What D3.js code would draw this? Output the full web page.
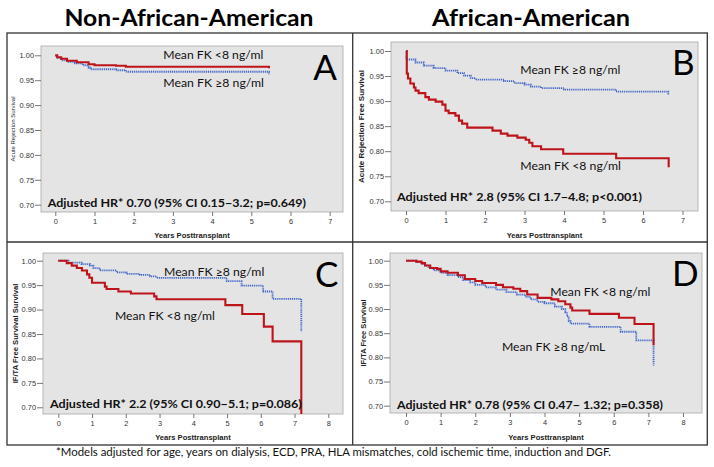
<!DOCTYPE html>
<html><head><meta charset="utf-8">
<script src="https://cdn.jsdelivr.net/npm/d3@7"></script>
<style>body{margin:0;background:#fff}svg{display:block}</style>
</head><body>
<svg id="chart" width="714" height="467"></svg>
<script>
// ---------------- data ----------------
const yTicks = [0.70, 0.75, 0.80, 0.85, 0.90, 0.95, 1.00];
const xTicksTop = [0, 1, 2, 3, 4, 5, 6, 7];
const xTicksBottom = [0, 1, 2, 3, 4, 5, 6, 7, 8];
const columnTitles = ["Non-African-American", "African-American"];
const panelLetters = ["A", "B", "C", "D"];
const yAxisTitles = ["Acute Rejection Survival", "Acute Rejection Free Survival", "IF/TA Free Survival Survival", "IF/TA Free Survival"];
const xAxisTitle = "Years Posttransplant";
const lowLabels = ["Mean FK <8 ng/ml", "Mean FK <8 ng/ml", "Mean FK <8 ng/ml", "Mean FK <8 ng/ml"];
const highLabels = ["Mean FK \u22658 ng/ml", "Mean FK \u22658 ng/ml", "Mean FK \u22658 ng/ml", "Mean FK \u22658 ng/mL"];
const hrTexts = [
  "Adjusted HR* 0.70 (95% CI 0.15\u22123.2; p=0.649)",
  "Adjusted HR* 2.8 (95% CI 1.7\u22124.8; p<0.001)",
  "Adjusted HR* 2.2 (95% CI 0.90\u22125.1; p=0.086)",
  "Adjusted HR* 0.78 (95% CI 0.47\u2212 1.32; p=0.358)"
];
const footnote = "*Models adjusted for age, years on dialysis, ECD, PRA, HLA mismatches, cold ischemic time, induction and DGF.";

// Panel A: Non-African-American, acute rejection
const aLowT  = [0, 0.05, 0.15, 0.3, 0.55, 0.85, 1.0, 1.55, 1.8, 5.45, 5.45];
const aLowS  = [1.0, 0.996, 0.993, 0.989, 0.986, 0.982, 0.980, 0.979, 0.977, 0.977, 0.974];
const aHighT = [0, 0.03, 0.15, 0.3, 0.5, 0.7, 0.85, 0.9, 1.55, 1.8, 5.45, 5.45];
const aHighS = [1.0, 0.995, 0.990, 0.987, 0.984, 0.980, 0.975, 0.972, 0.970, 0.967, 0.967, 0.962];
// Panel B: African-American, acute rejection
const bLowT  = [0, 0.02, 0.05, 0.11, 0.2, 0.24, 0.32, 0.49, 0.58, 0.75, 0.92, 1.0, 1.08, 1.25, 1.34, 1.42, 1.55, 2.19, 2.4, 2.57, 2.82, 3.03, 3.12, 3.2, 3.42, 3.98, 5.32, 6.65, 6.65];
const bLowS  = [1.0, 0.955, 0.945, 0.935, 0.927, 0.921, 0.916, 0.908, 0.903, 0.899, 0.893, 0.881, 0.876, 0.871, 0.861, 0.855, 0.847, 0.841, 0.835, 0.831, 0.827, 0.823, 0.817, 0.810, 0.804, 0.795, 0.786, 0.786, 0.768];
const bHighT = [0, 0.01, 0.24, 0.45, 0.7, 1.0, 1.3, 1.47, 1.64, 1.76, 2.48, 2.74, 3.0, 3.16, 3.42, 4.0, 5.32, 6.64, 6.64];
const bHighS = [1.0, 0.983, 0.977, 0.971, 0.966, 0.961, 0.956, 0.951, 0.946, 0.943, 0.940, 0.936, 0.933, 0.929, 0.926, 0.923, 0.919, 0.919, 0.912];
// Panel C: Non-African-American, IF/TA
const cLowT  = [0, 0.25, 0.4, 0.55, 0.7, 0.85, 0.92, 1.0, 1.38, 1.43, 1.78, 2.15, 2.84, 2.91, 4.95, 5.45, 6.09, 6.35, 7.2, 7.2];
const cLowS  = [1.0, 0.995, 0.990, 0.985, 0.980, 0.972, 0.965, 0.955, 0.947, 0.942, 0.937, 0.933, 0.927, 0.921, 0.909, 0.891, 0.865, 0.835, 0.835, 0.68];
const cHighT = [0, 0.3, 0.69, 0.94, 1.04, 1.23, 1.73, 2.02, 2.42, 2.72, 2.91, 4.99, 5.43, 6.07, 6.35, 7.2, 7.2];
const cHighS = [1.0, 0.996, 0.993, 0.990, 0.985, 0.980, 0.976, 0.973, 0.971, 0.968, 0.965, 0.958, 0.949, 0.937, 0.922, 0.922, 0.855];
// Panel D: African-American, IF/TA
const dLowT  = [0, 0.3, 0.45, 0.55, 0.7, 0.9, 1.0, 1.2, 1.5, 1.7, 2.0, 2.2, 2.6, 2.8, 3.1, 3.3, 3.5, 3.8, 4.2, 4.4, 4.6, 4.75, 4.8, 5.3, 6.15, 6.6, 7.15, 7.15];
const dLowS  = [1.0, 0.998, 0.995, 0.990, 0.985, 0.983, 0.978, 0.975, 0.970, 0.962, 0.958, 0.954, 0.950, 0.945, 0.942, 0.937, 0.930, 0.923, 0.920, 0.916, 0.910, 0.903, 0.897, 0.890, 0.882, 0.869, 0.869, 0.825];
const dHighT = [0, 0.3, 0.45, 0.55, 0.65, 0.8, 1.0, 1.2, 1.5, 1.65, 1.85, 2.0, 2.3, 2.6, 2.9, 3.2, 3.45, 3.6, 3.8, 4.0, 4.3, 4.5, 4.6, 4.65, 4.7, 4.75, 5.3, 6.2, 6.65, 7.15, 7.15];
const dHighS = [1.0, 0.997, 0.993, 0.990, 0.985, 0.980, 0.975, 0.970, 0.966, 0.960, 0.955, 0.950, 0.945, 0.940, 0.935, 0.930, 0.925, 0.920, 0.915, 0.912, 0.905, 0.900, 0.893, 0.885, 0.875, 0.870, 0.863, 0.853, 0.835, 0.835, 0.783];

// ---------------- layout ----------------
const RED = "#bd141c", BLUE = "#3f64c8";
const ANNOT = "Lato, 'Open Sans', sans-serif";
const AX = "'Liberation Sans', Arial, sans-serif";

const panels = [
  {plot:[41,46,343,212], x0:55.3, x1:329.7, xmax:7, y100:55.3, y70:204.7, xt:xTicksTop,
   low:[aLowT,aLowS], high:[aHighT,aHighS],
   ytitle:{x:13, size:6, weight:"normal"},
   lowLab:{x:163.3, y:59.3, w:100}, highLab:{x:163.3, y:87.3, w:100.7},
   letter:{x:313.3, y:80}, hr:{x:47.7, y:206.7, w:258.3}, xtitleY:237.5},
  {plot:[391,42,698,211], x0:406, x1:682.5, xmax:7, y100:51.0, y70:201.3, xt:xTicksTop,
   low:[bLowT,bLowS], high:[bHighT,bHighS],
   ytitle:{x:361, size:8, weight:"bold"},
   lowLab:{x:520.3, y:170, w:100.7}, highLab:{x:520.3, y:74.3, w:100},
   letter:{x:672, y:75}, hr:{x:397, y:200.7, w:245}, xtitleY:237.5},
  {plot:[43,253,343,414], x0:58.3, x1:328.3, xmax:8, y100:260.7, y70:407.3, xt:xTicksBottom,
   low:[cLowT,cLowS], high:[cHighT,cHighS],
   ytitle:{x:15, size:7.6, weight:"bold"},
   lowLab:{x:115, y:320.3, w:100}, highLab:{x:164, y:275.7, w:100.3},
   letter:{x:315, y:287.3}, hr:{x:50, y:408, w:251.7}, xtitleY:440},
  {plot:[390,253,702,413], x0:406, x1:683, xmax:8, y100:260.7, y70:405.7, xt:xTicksBottom,
   low:[dLowT,dLowS], high:[dHighT,dHighS],
   ytitle:{x:363, size:7.5, weight:"bold"},
   lowLab:{x:550.3, y:296.3, w:100}, highLab:{x:502, y:350.7, w:103.3},
   letter:{x:672, y:286.3}, hr:{x:397, y:409, w:266}, xtitleY:440}
];

const svg = d3.select("#chart");

// Calibri-like text: size by cap height, width forced with textLength
function calibri(parent, x, y, txt, size, weight, width, anchor) {
  const s = parent.append("text").attr("x", x).attr("y", y)
    .attr("font-family", ANNOT).attr("font-weight", weight).attr("font-size", size)
    .attr("fill", "#111").attr("text-anchor", anchor || "start").text(txt);
  if (width) s.attr("textLength", width).attr("lengthAdjust", "spacingAndGlyphs");
  return s;
}

// Column titles
const titleX = [189, 531];
const titleW = [249, 198];
columnTitles.forEach((t, i) => {
  calibri(svg, titleX[i], 25.5, t, 22, "bold", titleW[i], "middle").attr("fill", "#000");
});

// Outer frames
const frame = svg.append("g").attr("fill", "none").attr("stroke", "#333").attr("stroke-width", 1.3);
frame.append("rect").attr("x", 7).attr("y", 33).attr("width", 700.3).attr("height", 412);
frame.append("line").attr("x1", 352.7).attr("x2", 352.7).attr("y1", 33).attr("y2", 445);
frame.append("line").attr("x1", 7).attr("x2", 707.3).attr("y1", 242).attr("y2", 242);

const lineGen = (x, y) => d3.line().x(d => x(d[0])).y(d => y(d[1])).curve(d3.curveStepAfter);

panels.forEach((p, i) => {
  const [L, T, R, B] = p.plot;
  const g = svg.append("g");
  const x = d3.scaleLinear().domain([0, p.xmax]).range([p.x0, p.x1]);
  const y = d3.scaleLinear().domain([0.70, 1.00]).range([p.y70, p.y100]);

  g.append("rect").attr("x", L).attr("y", T).attr("width", R - L).attr("height", B - T)
    .attr("fill", "#e4e4e4").attr("stroke", "#a8a8a8").attr("stroke-width", 0.8);

  const clipId = "clip" + i;
  svg.append("clipPath").attr("id", clipId).append("rect")
    .attr("x", L).attr("y", T).attr("width", R - L).attr("height", B - T);

  // axes
  const ya = g.append("g").attr("transform", `translate(${L},0)`)
    .call(d3.axisLeft(y).tickValues(yTicks).tickFormat(d3.format(".2f")).tickSize(6).tickPadding(1));
  const xa = g.append("g").attr("transform", `translate(0,${B})`)
    .call(d3.axisBottom(x).tickValues(p.xt).tickFormat(d3.format("d")).tickSize(4).tickPadding(3));
  [ya, xa].forEach(a => {
    a.select(".domain").remove();
    a.selectAll("line").attr("stroke", "#555").attr("stroke-width", 0.8);
    a.selectAll("text").attr("font-family", AX).attr("font-size", 7.4).attr("fill", "#333");
  });

  // axis titles
  g.append("text").attr("transform", `translate(${p.ytitle.x},${(T + B) / 2}) rotate(-90)`)
    .attr("text-anchor", "middle").attr("dominant-baseline", "central")
    .attr("font-family", AX).attr("font-size", p.ytitle.size).attr("font-weight", p.ytitle.weight)
    .attr("fill", "#222").text(yAxisTitles[i]);
  g.append("text").attr("x", (L + R) / 2).attr("y", p.xtitleY).attr("text-anchor", "middle")
    .attr("font-family", AX).attr("font-size", 7.6).attr("font-weight", "bold").attr("fill", "#222")
    .text(xAxisTitle);

  // curves
  const cg = g.append("g").attr("clip-path", `url(#${clipId})`).attr("fill", "none");
  cg.append("path").datum(d3.zip(p.high[0], p.high[1]))
    .attr("d", lineGen(x, y)).attr("stroke", BLUE).attr("stroke-width", 1.8)
    .attr("stroke-dasharray", "1.1,0.8");
  cg.append("path").datum(d3.zip(p.low[0], p.low[1]))
    .attr("d", lineGen(x, y)).attr("stroke", RED).attr("stroke-width", 2.1);

  // annotations
  calibri(g, p.lowLab.x, p.lowLab.y, lowLabels[i], 12, "normal", p.lowLab.w);
  calibri(g, p.highLab.x, p.highLab.y, highLabels[i], 12, "normal", p.highLab.w);
  calibri(g, p.hr.x, p.hr.y, hrTexts[i], 12.2, "bold", p.hr.w);
  g.append("text").attr("x", p.letter.x).attr("y", p.letter.y)
    .attr("font-family", ANNOT).attr("font-size", 35).attr("fill", "#000").text(panelLetters[i]);
});

// Footnote
calibri(svg, 56, 456, footnote, 10.8, "normal", 555);
</script>
</body></html>
